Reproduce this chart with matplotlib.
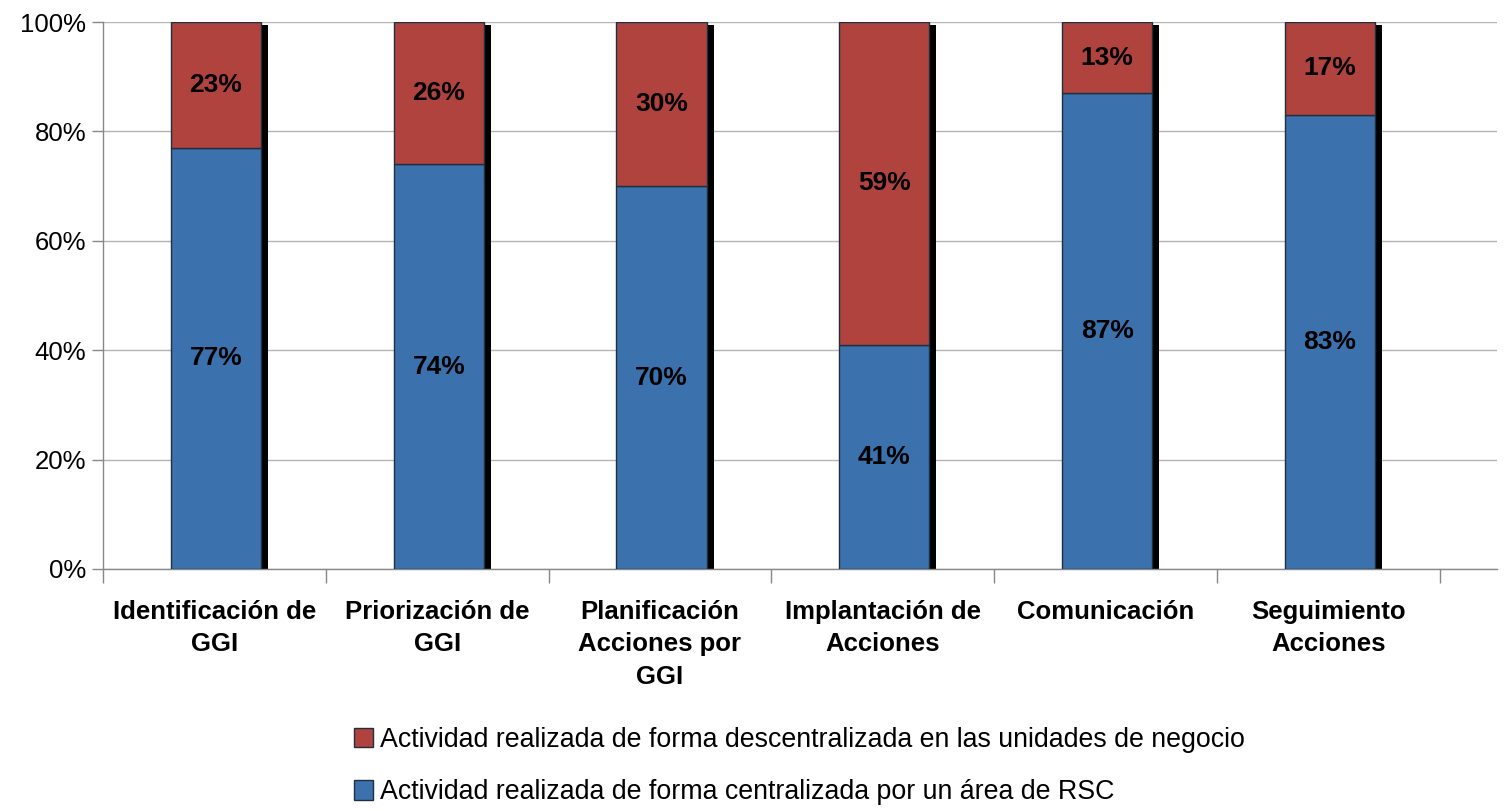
import numpy as np
import matplotlib
matplotlib.use('Agg')
import matplotlib.pyplot as plt
from matplotlib.patches import Patch

plt.rcParams['font.family'] = ['Liberation Sans', 'DejaVu Sans']

categories = ['Identificación de\nGGI', 'Priorización de\nGGI', 'Planificación\nAcciones por\nGGI',
              'Implantación de\nAcciones', 'Comunicación', 'Seguimiento\nAcciones']
centralizada = [77, 74, 70, 41, 87, 83]
descentralizada = [23, 26, 30, 59, 13, 17]
lab_central = 'Actividad realizada de forma centralizada por un área de RSC'
lab_descentral = 'Actividad realizada de forma descentralizada en las unidades de negocio'

c_blue = '#3B71AC'
c_red = '#B0433D'
fs = 18.5

fig = plt.figure(figsize=(15.05, 8.11), dpi=100)
ax = fig.add_axes([103/1505, 1-569/811, (1497-103)/1505, (569-22)/811])

x = np.arange(len(categories))
w = 0.405
off = 0.007
# shadow behind each stacked bar
tot = np.array(centralizada) + np.array(descentralizada)
ax.bar(x + off + 0.031, tot - 0.55, w, color='black', zorder=2)
ax.bar(x + off, centralizada, w, color=c_blue, edgecolor='#1f2f40', linewidth=1, zorder=3)
ax.bar(x + off, descentralizada, w, bottom=centralizada, color=c_red, edgecolor='#1f2f40', linewidth=1, zorder=3)

for i in range(len(categories)):
    ax.text(x[i] + off, centralizada[i]/2, f'{centralizada[i]}%', ha='center', va='center',
            fontsize=19, fontweight='bold', zorder=4)
    ax.text(x[i] + off, centralizada[i] + descentralizada[i]/2, f'{descentralizada[i]}%',
            ha='center', va='center', fontsize=19, fontweight='bold', zorder=4)

ax.set_xlim(-0.5, (1497-103)/222.8 - 0.5)
ax.set_ylim(0, 100)
ax.set_yticks(np.arange(0, 101, 20))
ax.set_yticklabels([f'{v}%' for v in range(0, 101, 20)], fontsize=fs)
ax.yaxis.grid(True, color='#b4b4b4', linewidth=1)
ax.set_axisbelow(True)
ax.tick_params(axis='y', length=8, width=1, color='#888888', pad=4)

ax.set_xticks(x)
ax.set_xticklabels(categories, fontsize=fs, fontweight='bold', linespacing=1.45)
ax.tick_params(axis='x', which='major', length=0, pad=22)
ax.set_xticks(np.arange(-0.5, len(categories)), minor=True)
ax.tick_params(axis='x', which='minor', length=10, width=1, color='#888888')

for s in ['top', 'right']:
    ax.spines[s].set_visible(False)
for s in ['left', 'bottom']:
    ax.spines[s].set_color('#888888')
    ax.spines[s].set_linewidth(1)

handles = [Patch(facecolor=c_red, edgecolor='#1f2f40', label=lab_descentral),
           Patch(facecolor=c_blue, edgecolor='#1f2f40', label=lab_central)]
fig.legend(handles=handles, loc='center', bbox_to_anchor=(0.531, 1-766/811), frameon=False,
           fontsize=19.3, handlelength=0.72, handleheight=0.72, handletextpad=0.25, labelspacing=1.0)

fig.savefig('out.png', dpi=100)
